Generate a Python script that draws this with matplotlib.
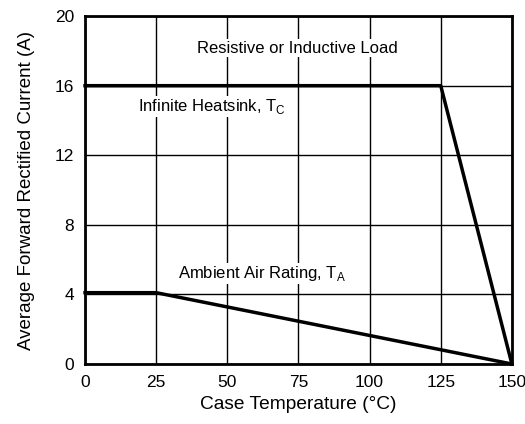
import numpy as np
import matplotlib
matplotlib.use("Agg")
import matplotlib.pyplot as plt

plt.rcParams['font.family'] = ['Liberation Sans', 'DejaVu Sans']

# derating curves
heatsink_t = [0, 125, 150]
heatsink_i = [16, 16, 0]
ambient_t = [0, 25, 150]
ambient_i = [4.1, 4.1, 0]

xticks = [0, 25, 50, 75, 100, 125, 150]
yticks = [0, 4, 8, 12, 16, 20]

fig = plt.figure(figsize=(5.25, 4.24), dpi=100)
ax = fig.add_axes([0.162, 0.1415, 0.813, 0.8205])

ax.set_xlim(0, 150)
ax.set_ylim(0, 20)
ax.set_xticks(xticks)
ax.set_yticks(yticks)
ax.grid(True, color='black', linewidth=1.0)
ax.set_axisbelow(True)
for s in ax.spines.values():
    s.set_linewidth(2)
ax.tick_params(length=0, labelsize=12.5, pad=8)

ax.plot(heatsink_t, heatsink_i, color='black', linewidth=2.5, clip_on=False, zorder=3)
ax.plot(ambient_t, ambient_i, color='black', linewidth=2.5, clip_on=False, zorder=3)

box = dict(facecolor='white', edgecolor='none', pad=1)
ax.text(74.5, 18.15, 'Resistive or Inductive Load', ha='center', va='center', fontsize=12, bbox=box, zorder=2)
ax.text(18.6, 14.8, 'Infinite Heatsink, T$_\\mathregular{C}$', ha='left', va='center', fontsize=12, bbox=box, zorder=2)
ax.text(32.7, 5.2, 'Ambient Air Rating, T$_\\mathregular{A}$', ha='left', va='center', fontsize=12, bbox=box, zorder=2)

ax.set_xlabel('Case Temperature (°C)', fontsize=13.8, labelpad=4)
ax.set_ylabel('Average Forward Rectified Current (A)', fontsize=13.5, labelpad=14)

fig.savefig('out.png', dpi=100)
